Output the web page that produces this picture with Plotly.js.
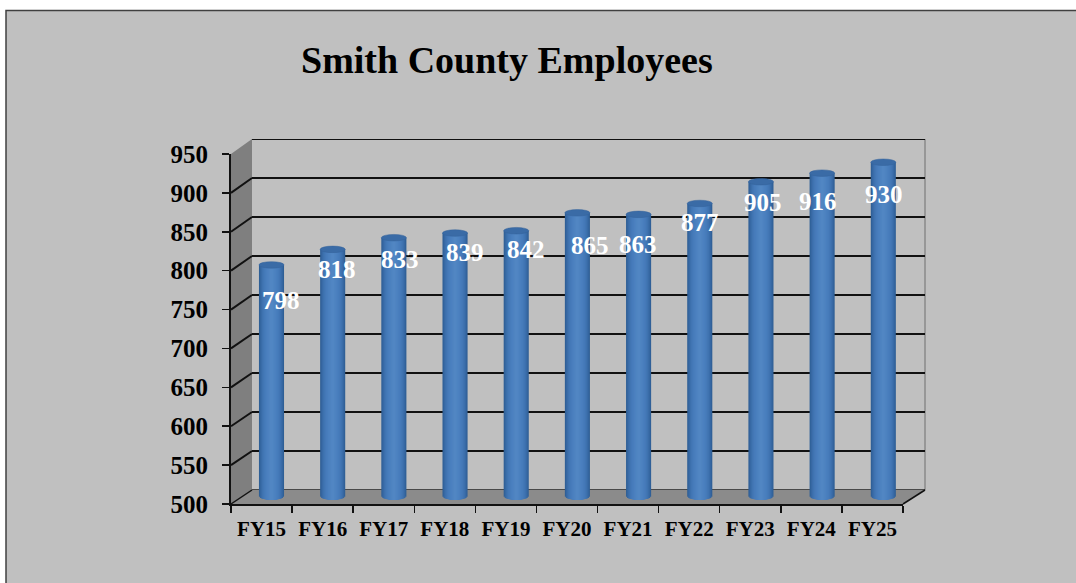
<!DOCTYPE html>
<html>
<head>
<meta charset="utf-8">
<script src="https://cdn.plot.ly/plotly-3.0.1.min.js"></script>
<style>html,body{margin:0;padding:0;background:#fff}#chart{width:1076px;height:583px}</style>
</head>
<body>
<div id="chart"></div>
<script>
// Employee head count per fiscal year
const years = ['FY15','FY16','FY17','FY18','FY19','FY20','FY21','FY22','FY23','FY24','FY25'];
const employees = [798,818,833,839,842,865,863,877,905,916,930];
const yTicks = [500,550,600,650,700,750,800,850,900,950];

// Hand-placed value label nudges, in pixels from each column's centre top
const labelNudgeX = [10,4,6,10,10,13,-1,0,2,-4,1];
const labelNudgeY = [36,20,22,19,19,33,30,19,21,28,32];

const W = 1076, H = 583;
const yMin = 500, yMax = 950;
// The column plane runs slightly below the axis minimum so rounded column feet stay visible
const midFloor = 490;

// The pseudo-3D box is three parallel planes: front axes, column plane, back wall
const front = {l:231, r:903, b:504, t:154};
const mid   = {l:240.9, r:913.9, b:496.7 + (yMin - midFloor) * 350 / (yMax - yMin), t:146.7};
const back  = {l:252, r:925, b:490, t:139};

const domX = p => [p.l / W, p.r / W];
const domY = p => [1 - p.b / H, 1 - p.t / H];
const yPx = (p, v) => p.b - (v - yMin) / (yMax - yMin) * (p.b - p.t);
const catRange = [-0.5, years.length - 0.5];

function pxShape(extra) {
  return Object.assign({xref:'paper', yref:'paper', layer:'below'}, extra);
}
const px = x => x / W;
const py = y => 1 - y / H;
const polygon = pts => 'M' + pts.map(p => px(p[0]) + ',' + py(p[1])).join('L') + 'Z';

const shapes = [
  // Chart frame, open past the right and bottom of the page
  pxShape({type:'rect', x0:px(6), x1:px(1090), y0:py(600), y1:py(10.5),
           fillcolor:'#c0c0c0', line:{color:'#404040', width:1.5}}),
  // Side wall and floor
  pxShape({type:'path', path:polygon([[front.l,front.t],[back.l,back.t],[back.l,back.b],[front.l,front.b]]),
           fillcolor:'#7f7f7f', line:{width:0}}),
  pxShape({type:'path', path:polygon([[front.l,front.b],[back.l,back.b],[back.r,back.b],[front.r,front.b]]),
           fillcolor:'#8b8b8b', line:{width:0}}),
  // Right edge of the back wall
  pxShape({type:'line', x0:px(back.r), x1:px(back.r), y0:py(back.t), y1:py(back.b),
           line:{color:'#8a8a8a', width:1.5}}),
  // Floor's right edge
  pxShape({type:'line', x0:px(front.r), x1:px(back.r), y0:py(front.b), y1:py(back.b),
           line:{color:'#111', width:1.5}}),
  // Top and bottom rules of the back wall, which the axis leaves out at its ends
  {type:'line', xref:'x2', yref:'y2', layer:'below', x0:0, x1:1, y0:yMin, y1:yMin, line:{color:'#222', width:1.5}},
  {type:'line', xref:'x2', yref:'y2', layer:'below', x0:0, x1:1, y0:yMax, y1:yMax, line:{color:'#111', width:2}}
];
// Gridlines fold from the back wall onto the side wall
yTicks.filter(v => v !== yMax).forEach(v => {
  shapes.push(pxShape({type:'line', x0:px(front.l), x1:px(back.l),
    y0:py(yPx(front, v)), y1:py(yPx(back, v)), line:{color:'#111', width:v === yMin ? 1.5 : 2}}));
});

// Column shading: nested strips from the dark rim in to the lit centre
const stripWidth = [1, .92, .84, .76, .68, .60, .52, .44, .36, .28, .20, .12];
const stripColor = ['#2f5f96','#3566a0','#3a6ca8','#3e72af','#4276b4','#4579b8','#477cbb','#497ebd','#4b80bf','#4d82c0','#4f84c1','#5186c3'];
const columnWidth = 0.41;
const ellipseUnits = 4.2;

const traces = stripWidth.map((f, k) => {
  const sag = ellipseUnits * Math.sqrt(1 - f * f);
  return {
    type:'bar', x:years, y:employees.map(v => v - (yMin - sag)), base:years.map(() => yMin - sag),
    width:columnWidth * f, marker:{color:stripColor[k], line:{width:0}},
    xaxis:'x3', yaxis:'y3', hoverinfo:'skip', showlegend:false
  };
});

// Column tops
employees.forEach((v, i) => {
  shapes.push({type:'circle', xref:'x3', yref:'y3', layer:'above',
    x0:i - columnWidth / 2, x1:i + columnWidth / 2, y0:v - ellipseUnits, y1:v + ellipseUnits,
    fillcolor:'#3a6ba6', line:{color:'#34629a', width:0.5}});
});

const annotations = employees.map((v, i) => ({
  x:i, y:v, xref:'x3', yref:'y3', text:String(v), showarrow:false,
  xshift:labelNudgeX[i], yshift:-labelNudgeY[i],
  font:{family:'"Liberation Serif", serif', size:25, color:'#fff', weight:700}
}));
annotations.push({
  xref:'paper', yref:'paper', x:px(507), y:py(60), yanchor:'middle', xanchor:'center',
  text:'<b>Smith County Employees</b>', showarrow:false,
  font:{family:'"Liberation Serif", serif', size:38, color:'#000'}
});

const axisFont = size => ({family:'"Liberation Serif", serif', size:size, color:'#000', weight:700});

const layout = {
  width:W, height:H, margin:{l:0, r:0, t:0, b:0},
  paper_bgcolor:'#ffffff', plot_bgcolor:'rgba(0,0,0,0)',
  barmode:'overlay', showlegend:false, shapes:shapes, annotations:annotations,
  // Front axes carry the ticks and labels
  xaxis:{domain:domX(front), anchor:'y', type:'category', categoryorder:'array', categoryarray:years,
         tickmode:'array', tickvals:years, ticktext:years, range:catRange, tickson:'boundaries',
         ticks:'outside', ticklen:7, tickwidth:1.5, tickcolor:'#111', showline:true, linecolor:'#111', linewidth:2,
         showgrid:false, zeroline:false, tickfont:axisFont(21), ticklabelstandoff:5, fixedrange:true},
  yaxis:{domain:domY(front), anchor:'x', range:[yMin,yMax], tickmode:'array', tickvals:yTicks,
         ticks:'outside', ticklen:7, tickwidth:1.5, tickcolor:'#111', showline:true, linecolor:'#111', linewidth:2,
         showgrid:false, zeroline:false, tickfont:axisFont(25), ticklabelstandoff:9, fixedrange:true},
  // Back wall gridlines
  xaxis2:{domain:domX(back), anchor:'y2', range:[0,1], visible:false, fixedrange:true},
  yaxis2:{domain:domY(back), anchor:'x2', range:[yMin,yMax], tickmode:'array', tickvals:yTicks, showticklabels:false,
          ticks:'', showline:false, showgrid:true, gridcolor:'#111', gridwidth:2, zeroline:false, fixedrange:true},
  // Column plane
  xaxis3:{domain:domX(mid), anchor:'y3', type:'category', categoryorder:'array', categoryarray:years,
          range:catRange, visible:false, fixedrange:true},
  yaxis3:{domain:domY(mid), anchor:'x3', range:[midFloor,yMax], visible:false, fixedrange:true}
};

// Invisible helpers keep the front and back subplots alive
traces.unshift(
  {type:'scatter', x:years, y:employees, mode:'none', xaxis:'x', yaxis:'y', hoverinfo:'skip', showlegend:false},
  {type:'scatter', x:[0,1], y:[yMin,yMax], mode:'none', xaxis:'x2', yaxis:'y2', hoverinfo:'skip', showlegend:false}
);

Plotly.newPlot('chart', traces, layout, {displayModeBar:false, staticPlot:true});
</script>
</body>
</html>
